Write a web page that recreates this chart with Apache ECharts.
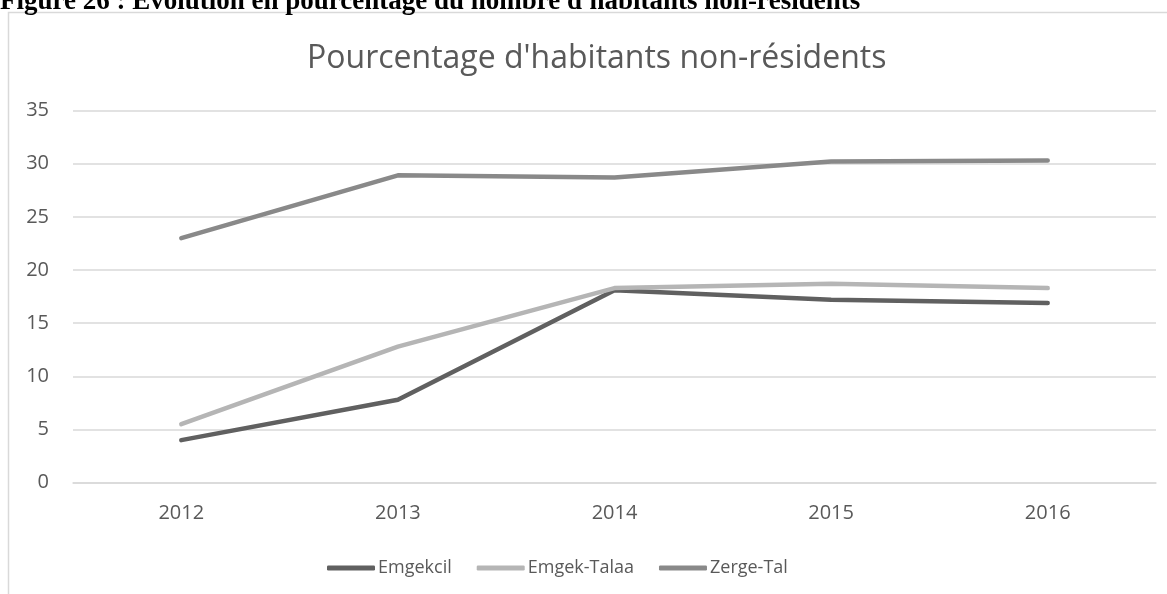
<!DOCTYPE html>
<html>
<head>
<meta charset="utf-8">
<script src="https://cdn.jsdelivr.net/npm/echarts@6/dist/echarts.min.js"></script>
<style>
  html, body { margin: 0; padding: 0; background: #fff; }
  #chart { width: 1167px; height: 594px; }
</style>
</head>
<body>
<div id="chart"></div>
<script>
var years = ['2012', '2013', '2014', '2015', '2016'];
var emgekcil = [4.0, 7.8, 18.1, 17.2, 16.9];
var emgekTalaa = [5.5, 12.8, 18.3, 18.7, 18.3];
var zergeTal = [23.0, 28.9, 28.7, 30.2, 30.3];
var seriesNames = ['Emgekcil', 'Emgek-Talaa', 'Zerge-Tal'];
var seriesColors = ['#606060', '#b5b5b5', '#898989'];

var myChart = echarts.init(document.getElementById('chart'));

function mkLine(name, data, color) {
    return {
        name: name,
        type: 'line',
        data: data,
        symbol: 'none',
        smooth: false,
        lineStyle: { color: color, width: 4.5, cap: 'round', join: 'round' },
        itemStyle: { color: color },
        animation: false
    };
}

var option = {
    backgroundColor: '#fff',
    textStyle: { fontFamily: 'Open Sans' },
    title: {
        text: "Pourcentage d'habitants non-résidents",
        left: 302,
        top: 38,
        textStyle: { fontFamily: 'Open Sans', fontSize: 32, fontWeight: 'normal', color: '#595959' }
    },
    graphic: [
        {   // caption cut by the top edge
            type: 'text',
            left: 0,
            top: -11,
            style: {
                text: "Figure 26 : Evolution en pourcentage du nombre d'habitants non-résidents",
                font: 'bold 27px "Liberation Serif"',
                fill: '#000'
            }
        },
        {
            type: 'rect',
            shape: { x: 8.5, y: 12.5, width: 1300, height: 800 },
            style: { fill: 'none', stroke: '#d9d9d9', lineWidth: 1.5 },
            z: -1
        }
    ],
    legend: {
        data: seriesNames,
        bottom: 12,
        left: 322,
        itemWidth: 48,
        itemHeight: 5,
        itemGap: 25,
        icon: 'roundRect',
        textStyle: { fontFamily: 'Open Sans', fontSize: 18, color: '#595959', padding: [0, 0, 0, -2] }
    },
    grid: { left: 73, right: 11, top: 110.5, bottom: 111.3, containLabel: false },
    xAxis: {
        type: 'category',
        data: years,
        boundaryGap: true,
        axisLine: { show: true, lineStyle: { color: '#d9d9d9', width: 1.5 } },
        axisTick: { show: false },
        axisLabel: { color: '#595959', fontSize: 20, margin: 21 }
    },
    yAxis: {
        type: 'value',
        min: 0,
        max: 35,
        interval: 5,
        axisLine: { show: false },
        axisTick: { show: false },
        axisLabel: { color: '#595959', fontSize: 20, margin: 24 },
        splitLine: { lineStyle: { color: '#d9d9d9', width: 1.5 } }
    },
    series: [
        mkLine(seriesNames[0], emgekcil, seriesColors[0]),
        mkLine(seriesNames[1], emgekTalaa, seriesColors[1]),
        mkLine(seriesNames[2], zergeTal, seriesColors[2])
    ]
};
myChart.setOption(option);
</script>
</body>
</html>
